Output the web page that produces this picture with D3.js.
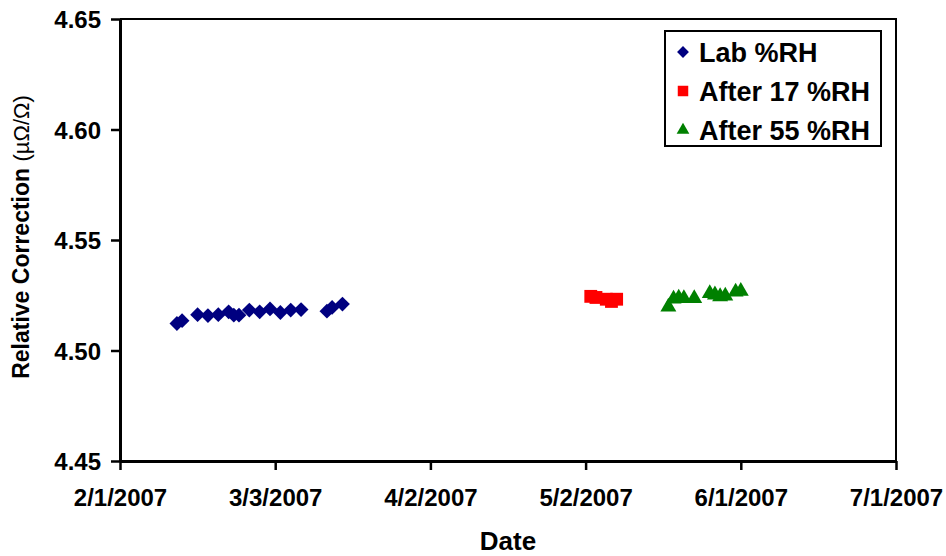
<!DOCTYPE html>
<html>
<head>
<meta charset="utf-8">
<script src="https://cdn.jsdelivr.net/npm/d3@7"></script>
<style>
  body { margin: 0; background: #fff; }
  svg text { font-family: "Liberation Sans", Arial, sans-serif; font-weight: bold; fill: #000; }
</style>
</head>
<body>
<svg id="chart" width="946" height="556"></svg>
<script>
// Relative correction readings over time for three humidity conditions
const labDates = ["2007-02-12","2007-02-13","2007-02-16","2007-02-18","2007-02-20","2007-02-22","2007-02-23","2007-02-24",
  "2007-02-26","2007-02-28","2007-03-02","2007-03-04","2007-03-06","2007-03-08","2007-03-13","2007-03-14","2007-03-16"];
const labValues = [4.5122,4.5135,4.5162,4.5158,4.5162,4.5175,4.5160,4.5160,
  4.5183,4.5175,4.5188,4.5172,4.5183,4.5185,4.5178,4.5195,4.5210];

const rh17Dates = ["2007-05-03","2007-05-04","2007-05-06","2007-05-07","2007-05-08"];
const rh17Values = [4.5245,4.5240,4.5232,4.5222,4.5232];

const rh55Dates = ["2007-05-18","2007-05-19","2007-05-20","2007-05-21","2007-05-23","2007-05-26","2007-05-27","2007-05-28","2007-05-29","2007-05-31","2007-06-01"];
const rh55Values = [4.5197,4.5233,4.5238,4.5236,4.5236,4.5258,4.5252,4.5244,4.5247,4.5265,4.5268];

const xTickDates = ["2007-02-01","2007-03-03","2007-04-02","2007-05-02","2007-06-01","2007-07-01"];
const yTicks = [4.45, 4.50, 4.55, 4.60, 4.65];
const seriesNames = ["Lab %RH", "After 17 %RH", "After 55 %RH"];
const seriesColors = ["#000080", "#ff0000", "#008000"];

const parse = d3.timeParse("%Y-%m-%d");
const fmt = d => (d.getMonth() + 1) + "/" + d.getDate() + "/" + d.getFullYear();
const FONT = "Liberation Sans, Arial, sans-serif";

const svg = d3.select("#chart");
const m = { left: 120, top: 19, right: 896, bottom: 461 };

const x = d3.scaleTime()
  .domain([parse("2007-02-01"), parse("2007-07-01")])
  .range([m.left, m.right]);
const y = d3.scaleLinear().domain([4.45, 4.65]).range([m.bottom, m.top]);

// plot frame (top and right edges)
svg.append("path")
  .attr("d", `M${m.left},${m.top}H${m.right}V${m.bottom}`)
  .attr("fill", "none").attr("stroke", "#000").attr("stroke-width", 2);

// y axis
const yAxis = svg.append("g").attr("transform", `translate(${m.left},0)`)
  .call(d3.axisLeft(y).tickValues(yTicks).tickFormat(d3.format(".2f")).tickSize(9).tickSizeOuter(0));
yAxis.select(".domain").attr("stroke-width", 3);
yAxis.selectAll(".tick line").attr("stroke-width", 2.5);
yAxis.selectAll(".tick text").attr("font-size", 24).attr("x", -19).attr("dy", "0.36em")
  .attr("font-family", FONT).attr("font-weight", "bold");

// x axis
const xAxis = svg.append("g").attr("transform", `translate(0,${m.bottom})`)
  .call(d3.axisBottom(x).tickValues(xTickDates.map(parse)).tickFormat(fmt).tickSize(9).tickSizeOuter(0));
xAxis.select(".domain").attr("stroke-width", 3);
xAxis.selectAll(".tick line").attr("stroke-width", 2.5);
xAxis.selectAll(".tick text").attr("font-size", 24).attr("y", 28)
  .attr("font-family", FONT).attr("font-weight", "bold");

// axis titles
svg.append("text").attr("x", 508).attr("y", 550)
  .attr("text-anchor", "middle").attr("font-size", 26).text("Date");

const yt = svg.append("text")
  .attr("transform", `translate(29,${(m.top + m.bottom) / 2 - 3}) rotate(-90)`)
  .attr("text-anchor", "middle").attr("font-size", 23);
yt.append("tspan").text("Relative Correction ");
yt.append("tspan").attr("font-weight", "normal").attr("font-size", 22).text("(µΩ/Ω)");

// series markers: diamond = square turned 45°
const series = [
  { dates: labDates, values: labValues, symbol: d3.symbolSquare, size: 110, rot: 45 },
  { dates: rh17Dates, values: rh17Values, symbol: d3.symbolSquare, size: 165, rot: 0 },
  { dates: rh55Dates, values: rh55Values, symbol: d3.symbolTriangle, size: 110, rot: 0 }
];

series.forEach((s, i) => {
  const pts = s.dates.map((d, k) => ({ date: parse(d), value: s.values[k] }));
  svg.append("g").selectAll("path").data(pts).join("path")
    .attr("d", d3.symbol().type(s.symbol).size(s.size))
    .attr("transform", d => `translate(${x(d.date)},${y(d.value)}) rotate(${s.rot})`)
    .attr("fill", seriesColors[i]);
});

// legend
const lg = svg.append("g");
lg.append("rect").attr("x", 665).attr("y", 31).attr("width", 216).attr("height", 115)
  .attr("fill", "#fff").attr("stroke", "#000").attr("stroke-width", 2);
const legendSizes = [70, 110, 70];
seriesNames.forEach((name, i) => {
  const cy = 52 + i * 39;
  lg.append("path").attr("d", d3.symbol().type(series[i].symbol).size(legendSizes[i]))
    .attr("transform", `translate(683,${cy}) rotate(${series[i].rot})`).attr("fill", seriesColors[i]);
  lg.append("text").attr("x", 699).attr("y", cy + 10).attr("font-size", 27).text(name);
});
</script>
</body>
</html>
